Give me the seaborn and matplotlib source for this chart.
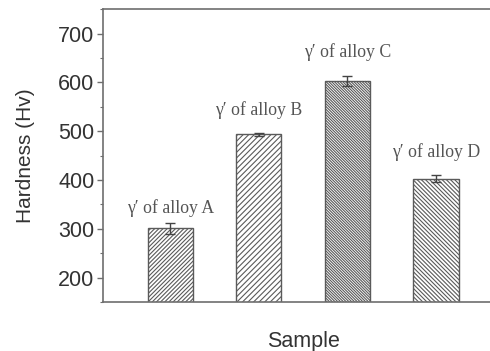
import matplotlib
matplotlib.use("Agg")
import matplotlib.pyplot as plt
import seaborn as sns
import pandas as pd
from matplotlib.ticker import MultipleLocator

samples = ["A", "B", "C", "D"]
labels = ["γ′ of alloy A", "γ′ of alloy B", "γ′ of alloy C", "γ′ of alloy D"]
hardness = [301, 494, 602, 403]
errors = [11, 3, 10, 8]
hatches = ["/" * 8, "/" * 6, "\\" * 12, "\\" * 8]

sns.set_theme(style="ticks")
plt.rcParams["font.family"] = ["Liberation Sans", "DejaVu Sans"]
plt.rcParams["hatch.linewidth"] = 0.8

df = pd.DataFrame({"Sample": samples, "Hardness": hardness})

fig = plt.figure(figsize=(4.9, 3.51), dpi=100)
ax = fig.add_axes([0.210, 0.1396, 0.817, 0.8344])

sns.barplot(data=df, x="Sample", y="Hardness", ax=ax, color="white",
            width=0.51, errorbar=None, edgecolor="#555555", linewidth=1.0)

centers = []
for patch, h in zip(ax.patches, hatches):
    patch.set_hatch(h)
    patch.set_facecolor("white")
    patch.set_edgecolor("#5a5a5a")
    centers.append(patch.get_x() + patch.get_width() / 2)

ax.errorbar(centers, hardness, yerr=errors, fmt="none", ecolor="#444444",
            elinewidth=1.0, capsize=3.5, capthick=1.0)

label_offsets = [11, 16, 17.5, 16]
for xc, v, e, lab, off in zip(centers, hardness, errors, labels, label_offsets):
    ax.annotate(lab, xy=(xc, v + e), xytext=(0, off), textcoords="offset points",
                ha="center", va="center", fontsize=12.8, color="#555555",
                family=["Liberation Serif", "DejaVu Serif"])

ax.set_xlim(-0.76, 3.76)
ax.set_ylim(150, 750)
ax.yaxis.set_major_locator(MultipleLocator(100))
ax.yaxis.set_minor_locator(MultipleLocator(50))
ax.set_yticks([200, 300, 400, 500, 600, 700])
ax.set_xticks([])
ax.set_xlabel("Sample", fontsize=15.5, color="#333333", labelpad=21)
ax.set_ylabel("Hardness (Hv)", fontsize=15, color="#333333", labelpad=17)

for s in ["left", "bottom", "top", "right"]:
    ax.spines[s].set_color("#6e6e6e")
    ax.spines[s].set_linewidth(1.2)
ax.tick_params(axis="y", which="major", length=4, width=1.0, color="#6e6e6e",
               labelsize=15.5, labelcolor="#333333", direction="out", pad=2)
ax.tick_params(axis="y", which="minor", length=2.5, width=0.8, color="#6e6e6e", direction="out")

fig.savefig("out.png", dpi=100)
